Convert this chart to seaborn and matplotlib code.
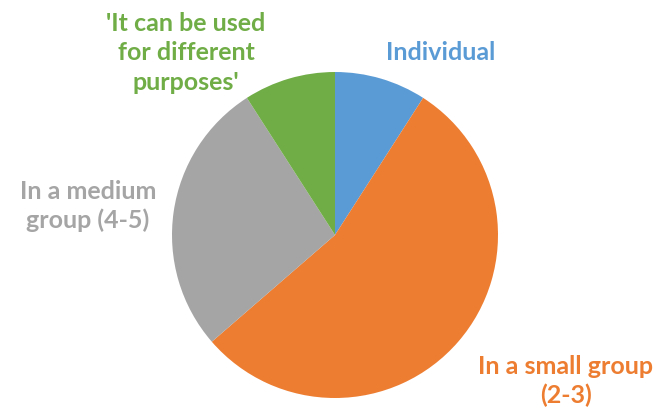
import matplotlib
matplotlib.use("Agg")
import matplotlib.pyplot as plt
import seaborn as sns

categories = ["Individual", "In a small group\n(2-3)", "In a medium\ngroup (4-5)",
              "'It can be used\nfor different\npurposes'"]
values = [3, 18, 9, 3]
colors = ["#5B9BD5", "#ED7D31", "#A5A5A5", "#70AD47"]
label_colors = ["#5B9BD5", "#ED7D31", "#A5A5A5", "#70AD47"]

sns.set_theme(style="white")
plt.rcParams['font.family'] = ['Lato', 'DejaVu Sans']

W, H = 660, 413
fig = plt.figure(figsize=(W / 100, H / 100), dpi=100)
cx, cy, r = 335, 235, 163
ax = fig.add_axes([(cx - r) / W, (H - cy - r) / H, 2 * r / W, 2 * r / H])
ax.pie(values, colors=colors, startangle=90, counterclock=False,
       wedgeprops=dict(linewidth=0))
ax.set_xlim(-1, 1)
ax.set_ylim(-1, 1)
ax.set_aspect("equal")
ax.axis("off")

label_pos = [(441, 52), (566, 381), (88, 206), (186, 53)]
for text, col, (x, y) in zip(categories, label_colors, label_pos):
    fig.text(x / W, 1 - y / H, text, color=col, fontsize=18, fontweight="bold",
             ha="center", va="center", linespacing=1.32)

fig.savefig("out.png", dpi=100, facecolor="white")
